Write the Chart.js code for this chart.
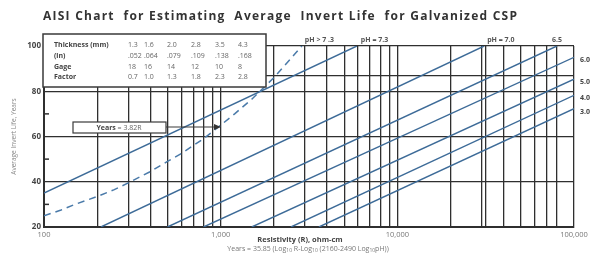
<!DOCTYPE html>
<html>
<head>
<meta charset="utf-8">
<script src="https://cdn.jsdelivr.net/npm/chart.js@4.4.0/dist/chart.umd.min.js"></script>
<style>
  body { margin: 0; background: #fff; }
  canvas { display: block; }
</style>
</head>
<body>
<canvas id="myChart" width="600" height="262"></canvas>
<script>
// dashed curve (pH > 7.3)
const dashedR = [100, 125, 150, 200, 250, 300, 400, 500, 600, 700, 800, 1000, 1200, 1500, 2000, 2500, 2880];
const dashedYears = [25, 27.5, 30, 33.5, 36.5, 39.5, 44.5, 49, 52.5, 56, 59, 65, 70, 76.5, 86, 94.5, 100];

// straight pH lines, start and end points
const phNames = ["pH = 7.3", "pH = 7.0", "6.5", "6.0", "5.0", "4.0", "3.0"];
const phStartR = [100, 210, 500, 800, 1500, 2500, 3600];
const phStartYears = [35, 20, 20, 20, 20, 20, 20];
const phEndR = [5900, 31000, 80000, 100000, 100000, 100000, 100000];
const phEndYears = [100, 100, 100, 95, 85.3, 78.2, 72.3];

// axes
const xGridValues = [100, 200, 300, 400, 500, 600, 700, 800, 900,
  1000, 2000, 3000, 4000, 5000, 6000, 7000, 8000, 9000,
  10000, 20000, 30000, 31500, 40000, 50000, 60000, 70000, 80000, 100000];
const xLabelValues = [100, 1000, 10000, 100000];
const yGridValues = [20, 40, 60, 80, 86.7, 100];
const yLabelValues = [20, 40, 60, 80, 100];
const yMinorMarks = [30, 50, 70];

// table in the box
const tableRows = ["Thickness (mm)", "(in)", "Gage", "Factor"];
const thicknessMm = ["1.3", "1.6", "2.0", "2.8", "3.5", "4.3"];
const thicknessIn = [".052", ".064", ".079", ".109", ".138", ".168"];
const gage = ["18", "16", "14", "12", "10", "8"];
const factor = ["0.7", "1.0", "1.3", "1.8", "2.3", "2.8"];

const fam = "'Open Sans', 'Noto Sans', sans-serif";
const lineBlue = "#3d6b98";
const gridCol = "#2f2f2f";

const datasets = [{
  label: "pH > 7.3",
  data: dashedR.map((r, i) => ({ x: r, y: dashedYears[i] })),
  borderColor: "#4a7aa9",
  borderWidth: 1.5,
  borderDash: [7, 5],
}];

phNames.forEach((name, i) => {
  datasets.push({
    label: name,
    data: [{ x: phStartR[i], y: phStartYears[i] }, { x: phEndR[i], y: phEndYears[i] }],
    borderColor: lineBlue,
    borderWidth: 1.4,
  });
});

datasets.forEach((d) => {
  d.showLine = true;
  d.pointRadius = 0;
  d.fill = false;
});

function text(c, str, x, y, size, color, bold, align) {
  c.font = (bold ? "bold " : "") + size + "px " + fam;
  c.fillStyle = color;
  c.textAlign = align || "left";
  c.textBaseline = "middle";
  c.fillText(str, x, y);
}

const decor = {
  id: "decor",
  beforeDraw(chart) {
    const c = chart.ctx;
    c.save();
    c.fillStyle = "#fff";
    c.fillRect(0, 0, chart.width, chart.height);
    c.restore();
  },
  afterDraw(chart) {
    const c = chart.ctx;
    const xs = chart.scales.x;
    const ys = chart.scales.y;
    const area = chart.chartArea;
    c.save();

    // title
    const title = "AISI Chart  for Estimating  Average  Invert Life  for Galvanized CSP";
    c.font = "bold 12px " + fam;
    const w = c.measureText(title).width;
    const spacing = (474 - w) / (title.length - 1);
    let tx = 43;
    c.fillStyle = "#333";
    c.textBaseline = "middle";
    c.textAlign = "left";
    for (const ch of title) {
      c.fillText(ch, tx, 17);
      tx += c.measureText(ch).width + spacing;
    }

    // small marks inside left border
    c.strokeStyle = gridCol;
    c.lineWidth = 1.5;
    yMinorMarks.forEach((v) => {
      const y = ys.getPixelForValue(v);
      c.beginPath();
      c.moveTo(area.left, y);
      c.lineTo(area.left + 5, y);
      c.stroke();
    });

    // table box
    c.fillStyle = "#fff";
    c.fillRect(43, 34, 223, 53);
    c.strokeStyle = "#3a3a3a";
    c.lineWidth = 1.5;
    c.strokeRect(43, 34, 223, 53);
    const rowY = [45, 56, 67, 77];
    const colX = [128, 144, 167, 191, 215, 238];
    [thicknessMm, thicknessIn, gage, factor].forEach((row, r) => {
      text(c, tableRows[r], 54, rowY[r], 7, "#444", true);
      row.forEach((v, k) => text(c, v, colX[k], rowY[r], 7, "#666", false));
    });

    // Years = 3.82R box and arrow
    c.fillStyle = "#fff";
    c.fillRect(73, 122, 93, 11);
    c.strokeStyle = "#3a3a3a";
    c.lineWidth = 1.2;
    c.strokeRect(73, 122, 93, 11);
    c.font = "bold 7px " + fam;
    const w1 = c.measureText("Years").width;
    c.font = "7px " + fam;
    const w2 = c.measureText(" = 3.82R").width;
    const sx = 119 - (w1 + w2) / 2;
    text(c, "Years", sx, 127.5, 7, "#444", true);
    text(c, " = 3.82R", sx + w1, 127.5, 7, "#666", false);
    c.beginPath();
    c.moveTo(166, 127);
    c.lineTo(216, 127);
    c.stroke();
    c.fillStyle = "#333";
    c.beginPath();
    c.moveTo(221, 127);
    c.lineTo(214, 124);
    c.lineTo(214, 130);
    c.closePath();
    c.fill();

    // labels at the top of lines
    text(c, "pH > 7 .3", xs.getPixelForValue(dashedR[dashedR.length - 1]) + 3, 40, 7, "#555", true);
    text(c, phNames[0], xs.getPixelForValue(phEndR[0]) + 4, 40, 7, "#555", true);
    text(c, phNames[1], xs.getPixelForValue(phEndR[1]) + 3, 40, 7, "#555", true);
    text(c, phNames[2], xs.getPixelForValue(phEndR[2]), 40, 7, "#555", true, "center");

    // labels at the right of lines
    for (let i = 3; i < phNames.length; i++) {
      text(c, phNames[i], area.right + 6, ys.getPixelForValue(phEndYears[i]) + 3, 7, "#444", true);
    }

    // x axis title and formula
    text(c, "Resistivity (R), ohm-cm", 300, 240, 7.5, "#444", true, "center");
    const parts = [["Years = 35.85 (Log", 0], ["10", 1], [" R-Log", 0], ["10", 1],
      [" (2160-2490 Log", 0], ["10", 1], ["pH))", 0]];
    let total = 0;
    parts.forEach((p) => {
      c.font = (p[1] ? 5 : 7) + "px " + fam;
      total += c.measureText(p[0]).width;
    });
    let fx = 308 - total / 2;
    parts.forEach((p) => {
      const size = p[1] ? 5 : 7;
      text(c, p[0], fx, p[1] ? 251 : 249, size, "#777", false);
      c.font = size + "px " + fam;
      fx += c.measureText(p[0]).width;
    });

    c.restore();
  },
};

const ctx = document.getElementById("myChart");

new Chart(ctx, {
  type: "scatter",
  data: { datasets: datasets },
  options: {
    responsive: false,
    animation: false,
    layout: { padding: { top: 46, right: 26, left: 0, bottom: 0 } },
    plugins: {
      legend: { display: false },
      tooltip: { enabled: false },
    },
    scales: {
      x: {
        type: "logarithmic",
        min: 100,
        max: 100000,
        afterBuildTicks: (s) => {
          s.ticks = xGridValues.map((v) => ({ value: v }));
        },
        afterFit: (s) => {
          s.height = 35;
        },
        grid: { color: gridCol, lineWidth: 1.3, drawTicks: false },
        border: { color: gridCol, width: 2 },
        ticks: {
          padding: 3,
          autoSkip: false,
          maxRotation: 0,
          color: "#777",
          font: { family: fam, size: 7.5 },
          callback: (v) => (xLabelValues.includes(v) ? v.toLocaleString("en-US") : ""),
        },
      },
      y: {
        min: 20,
        max: 100,
        afterBuildTicks: (s) => {
          s.ticks = yGridValues.map((v) => ({ value: v }));
        },
        afterFit: (s) => {
          s.width = 44;
        },
        grid: { color: gridCol, lineWidth: 1.3, drawTicks: false },
        border: { color: gridCol, width: 2 },
        title: {
          display: true,
          text: "Average Invert Life, Years",
          color: "#888",
          font: { family: fam, size: 6.5 },
          padding: { top: 10, bottom: 0 },
        },
        ticks: {
          padding: 3,
          color: "#444",
          font: { family: fam, size: 8, weight: "bold" },
          callback: (v) => (yLabelValues.includes(v) ? v : ""),
        },
      },
    },
  },
  plugins: [decor],
});
</script>
</body>
</html>
